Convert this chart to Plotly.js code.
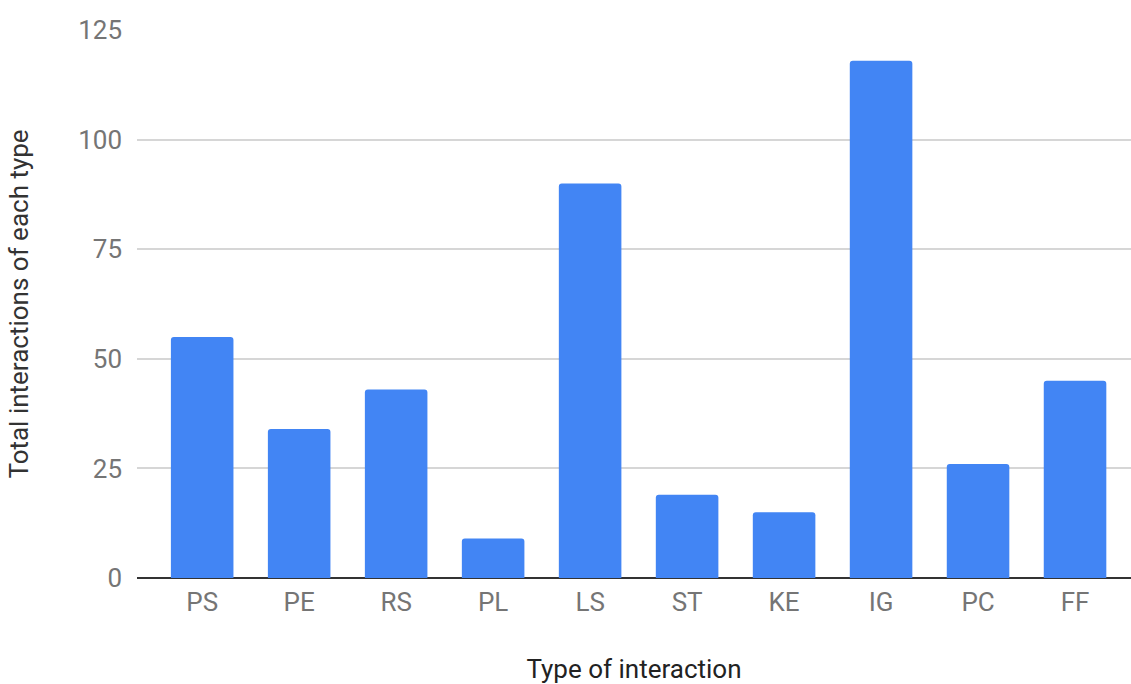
<!DOCTYPE html>
<html>
<head>
<meta charset="utf-8">
<script src="https://cdn.plot.ly/plotly-3.0.1.min.js"></script>
<style>
  html, body { margin: 0; padding: 0; background: #ffffff; }
  #chart { width: 1131px; height: 684px; }
</style>
</head>
<body>
<div id="chart"></div>
<script>
// Interaction type codes along the x axis
const interactionTypes = ['PS', 'PE', 'RS', 'PL', 'LS', 'ST', 'KE', 'IG', 'PC', 'FF'];
// Total count of interactions for each type
const interactionTotals = [55, 34, 43, 9, 90, 19, 15, 118, 26, 45];
// Y axis tick values
const yTicks = [0, 25, 50, 75, 100, 125];

const fontFamily = 'Roboto, "Noto Sans", Arial, sans-serif';

const trace = {
  type: 'bar',
  x: interactionTypes,
  y: interactionTotals,
  width: 0.645,
  marker: { color: '#4285F4', cornerradius: 3, line: { width: 0 } },
  hoverinfo: 'x+y'
};

const layout = {
  width: 1131,
  height: 684,
  margin: { l: 137, r: 0, t: 30, b: 105.5, pad: 0 },
  paper_bgcolor: '#ffffff',
  plot_bgcolor: '#ffffff',
  showlegend: false,
  font: { family: fontFamily, color: '#757575', size: 24 },
  xaxis: {
    type: 'category',
    range: [-0.672, 9.577],
    showgrid: false,
    zeroline: false,
    showline: false,
    ticks: '',
    ticklabelstandoff: 6,
    tickfont: { family: fontFamily, size: 26, color: '#757575' },
    title: {
      text: 'Type of interaction',
      font: { family: fontFamily, size: 26, color: '#222222' },
      standoff: 46
    }
  },
  yaxis: {
    range: [0, 125],
    tickvals: yTicks,
    ticktext: yTicks.map(String),
    showgrid: true,
    gridcolor: '#d6d6d6',
    gridwidth: 2,
    zeroline: true,
    zerolinecolor: '#333333',
    zerolinewidth: 2,
    showline: false,
    ticks: '',
    ticklabelstandoff: 14,
    tickfont: { family: fontFamily, size: 26, color: '#757575' },
    title: {
      text: 'Total interactions of each type',
      font: { family: fontFamily, size: 26, color: '#333333' },
      standoff: 42
    }
  }
};

Plotly.newPlot('chart', [trace], layout, { displayModeBar: false, staticPlot: true });
</script>
</body>
</html>
